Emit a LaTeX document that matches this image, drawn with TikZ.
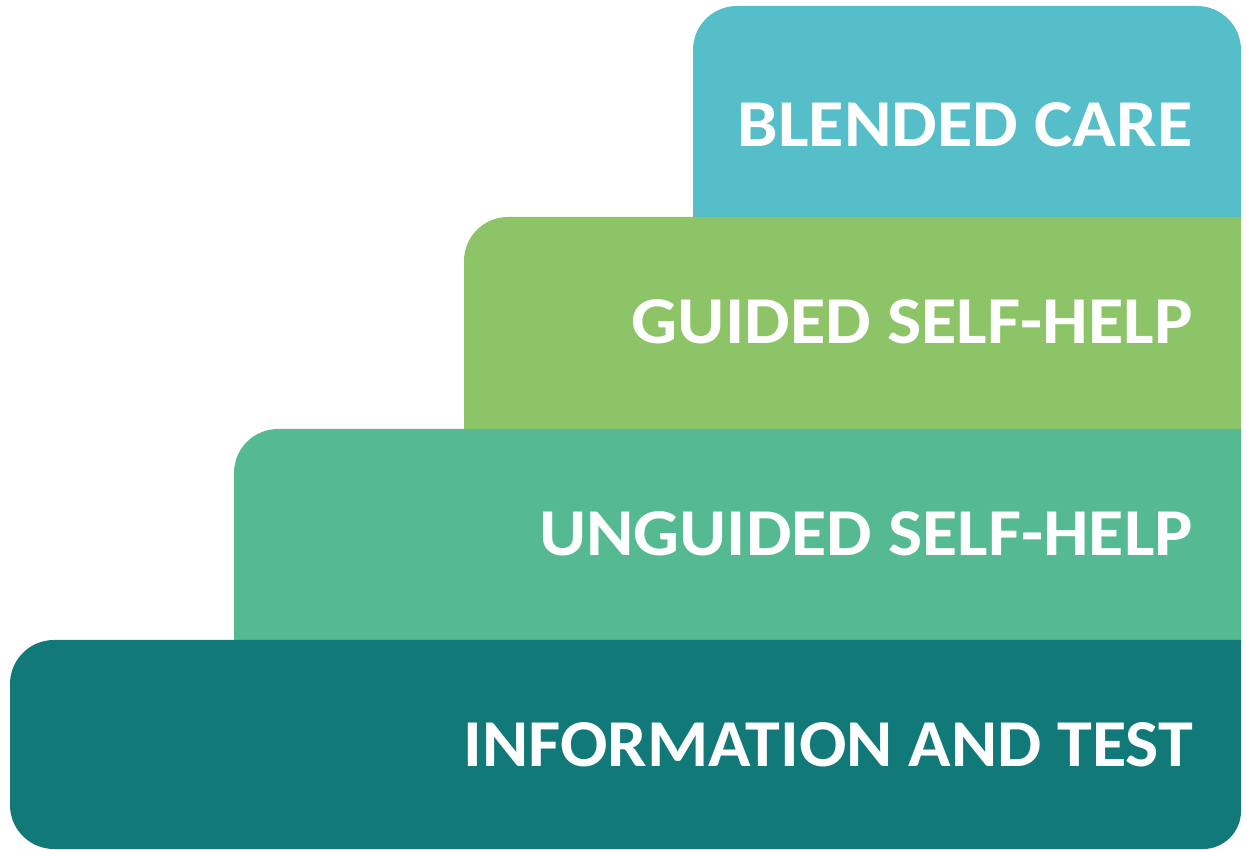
\documentclass[tikz,border=0pt]{standalone}
\usepackage{fontspec}
\usepackage{graphicx}
\setmainfont{Carlito}
\definecolor{cBlend}{HTML}{56BEC8}
\definecolor{cGuide}{HTML}{8DC467}
\definecolor{cUnguide}{HTML}{55B991}
\definecolor{cInfo}{HTML}{117A79}
\newcommand\widetext[2]{\scalebox{#1}[1]{#2}}
\begin{document}
\begin{tikzpicture}[x=1pt,y=1pt,
  steplabel/.style={anchor=base east, text=white, inner sep=0pt,
    font=\fontsize{67}{67}\selectfont\bfseries}]
\useasboundingbox (0,0) rectangle (1247,849);
% blended care
\fill[cBlend] (693,628) -- (693,799) arc[start angle=180,end angle=90,radius=44]
  -- (1197,843) arc[start angle=90,end angle=0,radius=44] -- (1241,628) -- cycle;
% guided self-help
\fill[cGuide] (464,416) -- (464,588) arc[start angle=180,end angle=90,radius=44]
  -- (1241,632) -- (1241,416) -- cycle;
% unguided self-help
\fill[cUnguide] (234,205) -- (234,376) arc[start angle=180,end angle=90,radius=44]
  -- (1241,420) -- (1241,205) -- cycle;
% information and test
\fill[cInfo] (10,44) -- (10,165) arc[start angle=180,end angle=90,radius=44]
  -- (1241,209) -- (1241,38) arc[start angle=0,end angle=-90,radius=38]
  -- (54,0) arc[start angle=270,end angle=180,radius=44] -- cycle;
\node[steplabel] (blend) at (1193,702) {\widetext{1.08}{BLENDED CARE}};
\node[steplabel] (guide) at (1193,505) {\widetext{1.08}{GUIDED SELF-HELP}};
\node[steplabel] (unguide) at (1193,293) {\widetext{1.076}{UNGUIDED SELF-HELP}};
\node[steplabel] (info) at (1193,83) {\widetext{1.047}{INFORMATION AND TEST}};
\end{tikzpicture}
\end{document}
